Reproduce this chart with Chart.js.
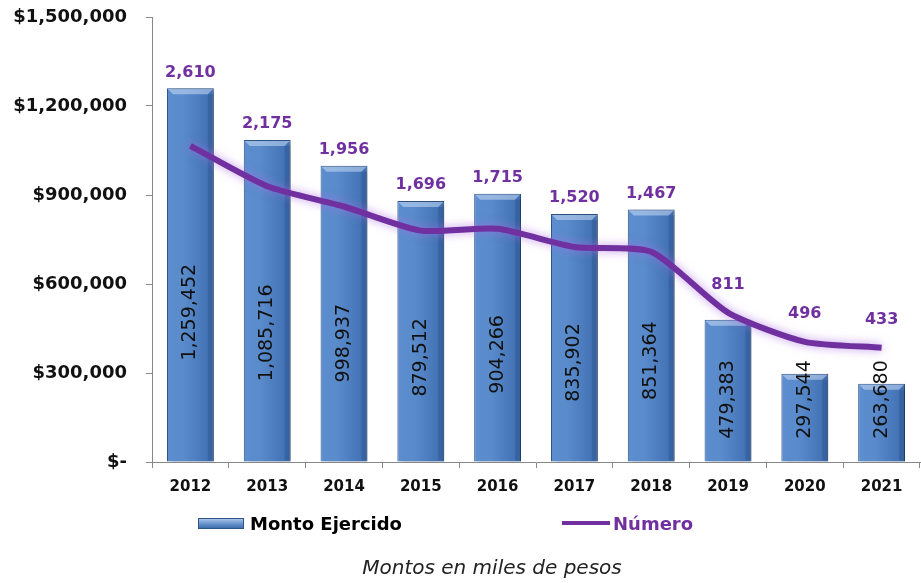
<!DOCTYPE html>
<html>
<head>
<meta charset="utf-8">
<script src="https://cdn.jsdelivr.net/npm/chart.js@4"></script>
<style>
  body { margin: 0; background: #fff; }
  #wrap { position: relative; width: 921px; height: 583px; font-family: "DejaVu Sans", sans-serif; }
  canvas { position: absolute; left: 0; top: 0; }
  .legend-item { position: absolute; top: 511px; height: 24px; display: flex; align-items: center; font-weight: bold; font-size: 18px; }
  .swatch-bar { width: 44px; height: 9px; border: 1px solid #2f5485;
    background: linear-gradient(to bottom, #a9c4e8 0%, #6f9bd3 45%, #3f6fae 100%); margin-right: 6px; }
  .swatch-line { width: 48px; height: 4px; background: #7030a0; margin-right: 3px; }
  #note { position: absolute; top: 555px; left: 0; width: 984px; text-align: center; font-style: italic; font-size: 20px; color: #222; }
</style>
</head>
<body>
<div id="wrap">
  <canvas id="chart" width="921" height="583"></canvas>
  <div class="legend-item" style="left:198px;"><span class="swatch-bar"></span>Monto Ejercido</div>
  <div class="legend-item" style="left:562px;color:#7030a0;"><span class="swatch-line"></span>Número</div>
  <div id="note">Montos en miles de pesos</div>
</div>
<script>
const years = ["2012", "2013", "2014", "2015", "2016", "2017", "2018", "2019", "2020", "2021"];
const montoEjercido = [1259452, 1085716, 998937, 879512, 904266, 835902, 851364, 479383, 297544, 263680];
const numero = [2610, 2175, 1956, 1696, 1715, 1520, 1467, 811, 496, 433];
const yTicks = [0, 300000, 600000, 900000, 1200000, 1500000];

const fmt = v => v.toLocaleString("en-US");

// bar look: horizontal gradient plus a light bevel at the top
function barFill(context) {
  const chart = context.chart;
  if (!chart.chartArea) return "#4f81bd";
  const x = chart.scales.x.getPixelForValue(context.dataIndex);
  const g = chart.ctx.createLinearGradient(x - 24, 0, x + 24, 0);
  g.addColorStop(0, "#5b8ed0");
  g.addColorStop(0.35, "#5a8bcb");
  g.addColorStop(1, "#3d6db0");
  return g;
}

const effects = {
  id: "effects",
  beforeDatasetDraw(chart, args) {
    const ctx = chart.ctx;
    ctx.save();
    if (args.index === 1) {
      ctx.shadowColor = "rgba(0,0,0,0.35)";
      ctx.shadowBlur = 5;
      ctx.shadowOffsetX = 3;
      ctx.shadowOffsetY = 2;
    } else {
      ctx.shadowColor = "rgba(170,110,230,0.7)";
      ctx.shadowBlur = 10;
    }
  },
  afterDatasetDraw(chart, args) {
    const ctx = chart.ctx;
    ctx.restore();
    if (args.index === 1) {
      // bevel on top of each bar + rotated value labels
      const meta = chart.getDatasetMeta(1);
      meta.data.forEach((bar, i) => {
        const left = bar.x - bar.width / 2, right = bar.x + bar.width / 2;
        const top = bar.y, b = 6;
        ctx.save();
        ctx.fillStyle = "rgba(200,220,245,0.55)";
        ctx.beginPath();
        ctx.moveTo(left + 1, top + 1);
        ctx.lineTo(right - 1, top + 1);
        ctx.lineTo(right - b, top + b);
        ctx.lineTo(left + b, top + b);
        ctx.closePath();
        ctx.fill();
        ctx.fillStyle = "rgba(30,60,110,0.25)";
        ctx.fillRect(right - b, top + b, b - 1, bar.base - top - b - 1);
        ctx.restore();
      });
      meta.data.forEach((bar, i) => {
        const h = bar.base - bar.y;
        const cy = bar.base - Math.max(0.4 * h, 62);
        ctx.save();
        ctx.translate(bar.x, cy);
        ctx.rotate(-Math.PI / 2);
        ctx.font = "19px 'DejaVu Sans', sans-serif";
        ctx.fillStyle = "#111";
        ctx.textAlign = "center";
        ctx.textBaseline = "middle";
        ctx.fillText(fmt(montoEjercido[i]), 0, 0);
        ctx.restore();
      });
    } else {
      // purple labels above line / bar
      const lineMeta = chart.getDatasetMeta(0);
      const barMeta = chart.getDatasetMeta(1);
      ctx.save();
      ctx.font = "bold 16px 'DejaVu Sans', sans-serif";
      ctx.fillStyle = "#7030a0";
      ctx.textAlign = "center";
      ctx.textBaseline = "middle";
      lineMeta.data.forEach((pt, i) => {
        const barTop = barMeta.data[i].y;
        const y = pt.y < barTop ? pt.y - 28 : barTop - 16;
        ctx.fillText(fmt(numero[i]), pt.x, y);
      });
      ctx.restore();
    }
  }
};

new Chart(document.getElementById("chart"), {
  type: "bar",
  data: {
    labels: years,
    datasets: [
      {
        type: "line",
        label: "Número",
        data: numero,
        yAxisID: "y1",
        borderColor: "#7030a0",
        borderWidth: 6,
        pointRadius: 0,
        tension: 0.22,
        order: 0
      },
      {
        type: "bar",
        label: "Monto Ejercido",
        data: montoEjercido,
        yAxisID: "y",
        backgroundColor: barFill,
        borderColor: "#2f5485",
        borderWidth: 1,
        categoryPercentage: 1,
        barPercentage: 0.61,
        order: 1
      }
    ]
  },
  options: {
    responsive: false,
    animation: false,
    layout: { padding: { top: 17, right: 1, bottom: 77, left: 10 } },
    plugins: {
      legend: { display: false },
      tooltip: { enabled: false }
    },
    scales: {
      x: {
        offset: true,
        grid: { offset: true, drawOnChartArea: false, tickLength: 6, color: "#888" },
        border: { color: "#888", width: 1 },
        ticks: { color: "#111", font: { family: "DejaVu Sans", weight: "bold", size: 15 }, padding: 10 }
      },
      y: {
        min: 0,
        max: 1500000,
        afterBuildTicks(scale) { scale.ticks = yTicks.map(v => ({ value: v })); },
        afterFit(scale) { scale.width = 142; scale.paddingTop = 0; scale.paddingBottom = 0; },
        grid: { drawOnChartArea: false, tickLength: 6, color: "#888" },
        border: { color: "#888", width: 1 },
        ticks: {
          color: "#111",
          padding: 19,
          font: { family: "DejaVu Sans", weight: "bold", size: 18 },
          callback: v => v === 0 ? "$-" : "$" + fmt(v)
        }
      },
      y1: {
        display: false,
        min: -800,
        max: 4000
      }
    }
  },
  plugins: [effects]
});
</script>
</body>
</html>
